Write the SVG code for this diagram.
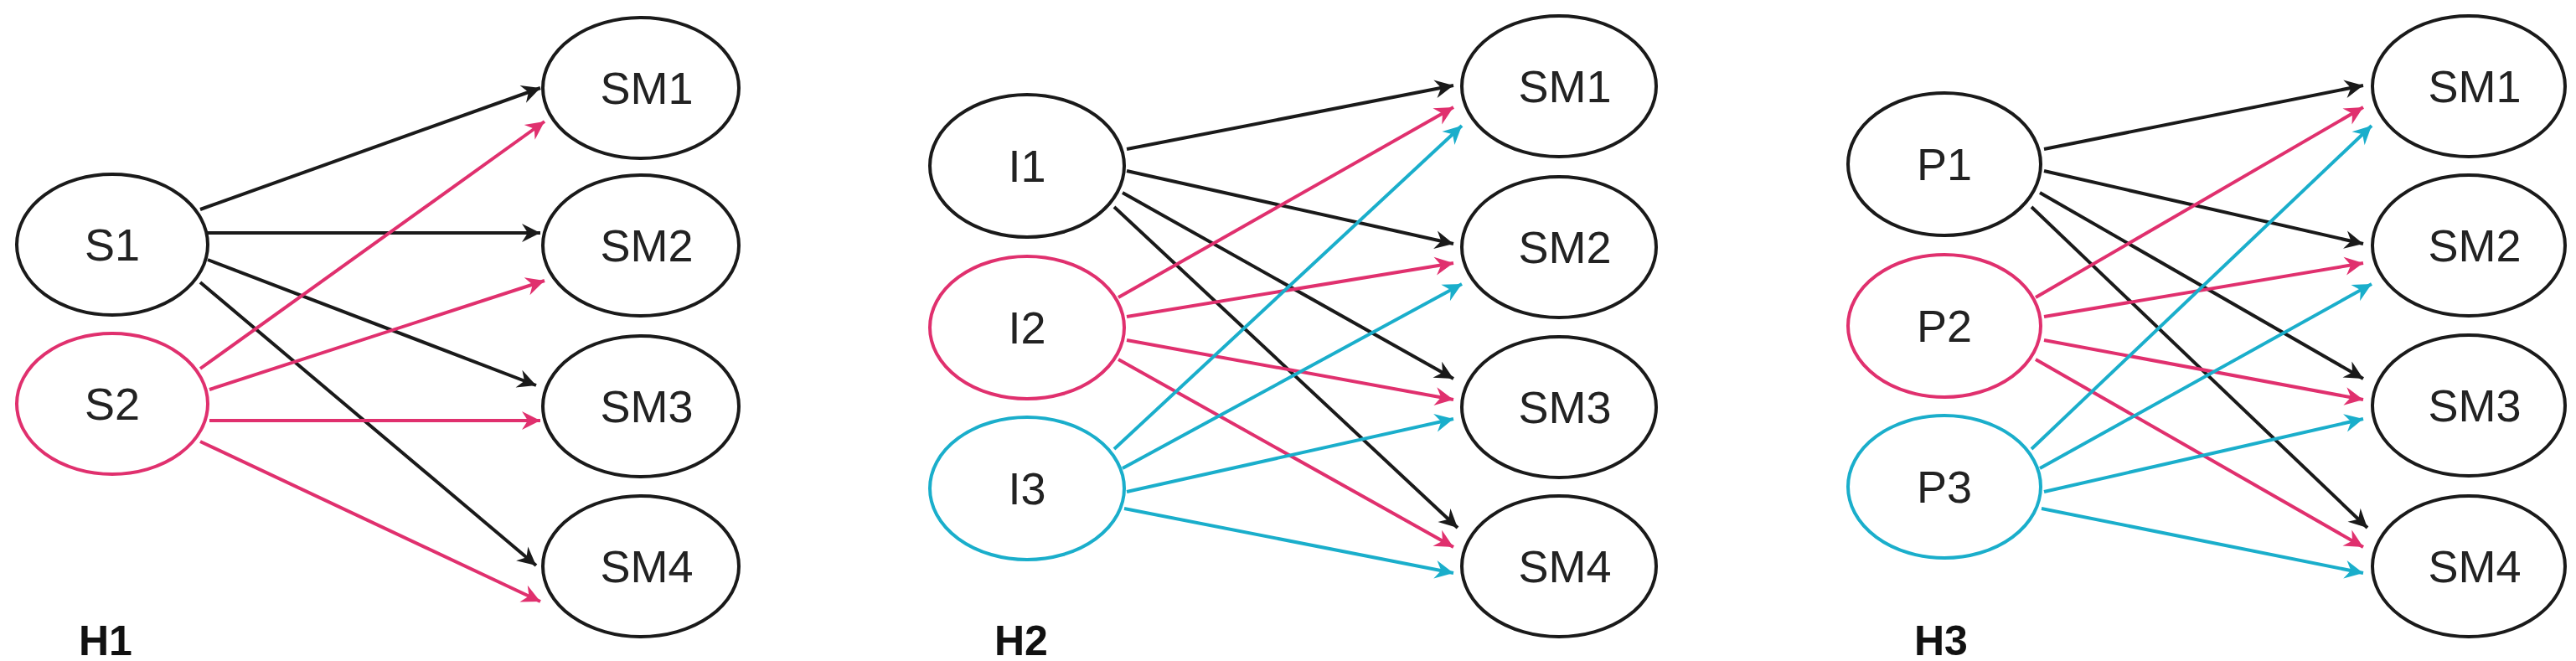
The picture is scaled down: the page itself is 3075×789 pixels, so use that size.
<svg xmlns="http://www.w3.org/2000/svg" width="3075" height="789" viewBox="0 0 3075 789">
<style>
.n{fill:#fff;stroke-width:4}
.k{stroke:#1a1a1a}.p{stroke:#e0306e}.c{stroke:#1aaecb}
.t{font-family:"Liberation Sans",Arial,sans-serif;font-size:54px;fill:#222;text-anchor:middle}
.h{font-family:"Liberation Sans",Arial,sans-serif;font-size:50px;font-weight:bold;fill:#111}
.e{fill:none;stroke-width:4}
</style>
<defs>
<marker id="ak" markerWidth="10" markerHeight="10" refX="9" refY="5" orient="auto" markerUnits="userSpaceOnUse" viewBox="0 0 10 10" style="overflow:visible"><path d="M-22,-11 L0,0 L-22,11 L-15,0 Z" fill="#1a1a1a" transform="translate(9,5)"/></marker>
<marker id="ap" markerWidth="10" markerHeight="10" refX="9" refY="5" orient="auto" markerUnits="userSpaceOnUse" viewBox="0 0 10 10" style="overflow:visible"><path d="M-22,-11 L0,0 L-22,11 L-15,0 Z" fill="#e0306e" transform="translate(9,5)"/></marker>
<marker id="ac" markerWidth="10" markerHeight="10" refX="9" refY="5" orient="auto" markerUnits="userSpaceOnUse" viewBox="0 0 10 10" style="overflow:visible"><path d="M-22,-11 L0,0 L-22,11 L-15,0 Z" fill="#1aaecb" transform="translate(9,5)"/></marker>
</defs>
<g id="connectors">
<!-- H1 -->
<line class="e k" x1="239" y1="250" x2="645" y2="105" marker-end="url(#ak)"/>
<line class="e k" x1="248" y1="278" x2="645" y2="278" marker-end="url(#ak)"/>
<line class="e k" x1="248" y1="310" x2="640" y2="460" marker-end="url(#ak)"/>
<line class="e k" x1="239" y1="337" x2="640" y2="675" marker-end="url(#ak)"/>
<line class="e p" x1="239" y1="440" x2="650" y2="145" marker-end="url(#ap)"/>
<line class="e p" x1="250" y1="465" x2="650" y2="335" marker-end="url(#ap)"/>
<line class="e p" x1="250" y1="502" x2="645" y2="502" marker-end="url(#ap)"/>
<line class="e p" x1="239" y1="527" x2="645" y2="718" marker-end="url(#ap)"/>
<!-- H2 -->
<line class="e k" x1="1345" y1="178" x2="1735" y2="102" marker-end="url(#ak)"/>
<line class="e k" x1="1345" y1="204" x2="1735" y2="291" marker-end="url(#ak)"/>
<line class="e k" x1="1340" y1="230" x2="1735" y2="452" marker-end="url(#ak)"/>
<line class="e k" x1="1330" y1="247" x2="1740" y2="630" marker-end="url(#ak)"/>
<line class="e p" x1="1335" y1="355" x2="1735" y2="128" marker-end="url(#ap)"/>
<line class="e p" x1="1345" y1="378" x2="1735" y2="314" marker-end="url(#ap)"/>
<line class="e p" x1="1345" y1="406" x2="1735" y2="477" marker-end="url(#ap)"/>
<line class="e p" x1="1335" y1="429" x2="1735" y2="653" marker-end="url(#ap)"/>
<line class="e c" x1="1330" y1="536" x2="1745" y2="150" marker-end="url(#ac)"/>
<line class="e c" x1="1340" y1="559" x2="1745" y2="339" marker-end="url(#ac)"/>
<line class="e c" x1="1345" y1="587" x2="1735" y2="500" marker-end="url(#ac)"/>
<line class="e c" x1="1342" y1="607" x2="1735" y2="684" marker-end="url(#ac)"/>
<!-- H3 -->
<line class="e k" x1="2440" y1="178" x2="2821" y2="102" marker-end="url(#ak)"/>
<line class="e k" x1="2440" y1="204" x2="2821" y2="291" marker-end="url(#ak)"/>
<line class="e k" x1="2435" y1="230" x2="2821" y2="452" marker-end="url(#ak)"/>
<line class="e k" x1="2425" y1="247" x2="2826" y2="630" marker-end="url(#ak)"/>
<line class="e p" x1="2430" y1="355" x2="2821" y2="128" marker-end="url(#ap)"/>
<line class="e p" x1="2440" y1="378" x2="2821" y2="314" marker-end="url(#ap)"/>
<line class="e p" x1="2440" y1="406" x2="2821" y2="477" marker-end="url(#ap)"/>
<line class="e p" x1="2430" y1="429" x2="2821" y2="653" marker-end="url(#ap)"/>
<line class="e c" x1="2425" y1="536" x2="2831" y2="150" marker-end="url(#ac)"/>
<line class="e c" x1="2435" y1="559" x2="2831" y2="339" marker-end="url(#ac)"/>
<line class="e c" x1="2440" y1="587" x2="2821" y2="500" marker-end="url(#ac)"/>
<line class="e c" x1="2437" y1="607" x2="2821" y2="684" marker-end="url(#ac)"/>
</g>
<g id="S1"><ellipse class="n k" cx="134" cy="292" rx="114" ry="84"/><text class="t" x="134" y="311">S1</text></g>
<g id="S2"><ellipse class="n p" cx="134" cy="482" rx="114" ry="84"/><text class="t" x="134" y="501">S2</text></g>
<g id="H1-SM1"><ellipse class="n k" cx="765" cy="105" rx="117" ry="84"/><text class="t" x="772" y="124">SM1</text></g>
<g id="H1-SM2"><ellipse class="n k" cx="765" cy="293" rx="117" ry="84"/><text class="t" x="772" y="312">SM2</text></g>
<g id="H1-SM3"><ellipse class="n k" cx="765" cy="485" rx="117" ry="84"/><text class="t" x="772" y="504">SM3</text></g>
<g id="H1-SM4"><ellipse class="n k" cx="765" cy="676" rx="117" ry="84"/><text class="t" x="772" y="695">SM4</text></g>
<g id="I1"><ellipse class="n k" cx="1226" cy="198" rx="116" ry="85"/><text class="t" x="1226" y="217">I1</text></g>
<g id="I2"><ellipse class="n p" cx="1226" cy="391" rx="116" ry="85"/><text class="t" x="1226" y="410">I2</text></g>
<g id="I3"><ellipse class="n c" cx="1226" cy="583" rx="116" ry="85"/><text class="t" x="1226" y="602">I3</text></g>
<g id="H2-SM1"><ellipse class="n k" cx="1861" cy="103" rx="116" ry="84"/><text class="t" x="1868" y="122">SM1</text></g>
<g id="H2-SM2"><ellipse class="n k" cx="1861" cy="295" rx="116" ry="84"/><text class="t" x="1868" y="314">SM2</text></g>
<g id="H2-SM3"><ellipse class="n k" cx="1861" cy="486" rx="116" ry="84"/><text class="t" x="1868" y="505">SM3</text></g>
<g id="H2-SM4"><ellipse class="n k" cx="1861" cy="676" rx="116" ry="84"/><text class="t" x="1868" y="695">SM4</text></g>
<g id="P1"><ellipse class="n k" cx="2321" cy="196" rx="115" ry="85"/><text class="t" x="2321" y="215">P1</text></g>
<g id="P2"><ellipse class="n p" cx="2321" cy="389" rx="115" ry="85"/><text class="t" x="2321" y="408">P2</text></g>
<g id="P3"><ellipse class="n c" cx="2321" cy="581" rx="115" ry="85"/><text class="t" x="2321" y="600">P3</text></g>
<g id="H3-SM1"><ellipse class="n k" cx="2947" cy="103" rx="115" ry="84"/><text class="t" x="2954" y="122">SM1</text></g>
<g id="H3-SM2"><ellipse class="n k" cx="2947" cy="293" rx="115" ry="84"/><text class="t" x="2954" y="312">SM2</text></g>
<g id="H3-SM3"><ellipse class="n k" cx="2947" cy="484" rx="115" ry="84"/><text class="t" x="2954" y="503">SM3</text></g>
<g id="H3-SM4"><ellipse class="n k" cx="2947" cy="676" rx="115" ry="84"/><text class="t" x="2954" y="695">SM4</text></g>
<text class="h" x="94" y="782">H1</text>
<text class="h" x="1187" y="782">H2</text>
<text class="h" x="2285" y="782">H3</text>
</svg>
